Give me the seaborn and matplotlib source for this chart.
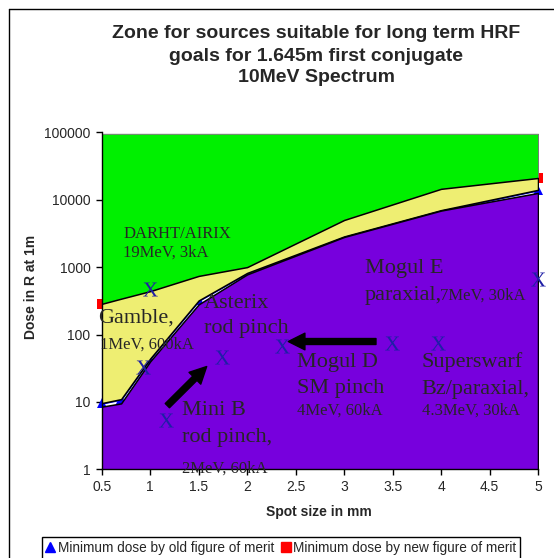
import matplotlib
matplotlib.use('Agg')
import matplotlib.pyplot as plt
import seaborn as sns
import numpy as np
from matplotlib.lines import Line2D
from matplotlib.ticker import NullLocator

# === Données ===
spot = [0.5, 0.7, 1.0, 1.5, 2.0, 3.0, 4.0, 5.0]
zone_low = [8.5, 9.5, 40, 280, 780, 2800, 6900, 12600]      # haut de la zone violette
old_fom = [9.6, 11, 44, 320, 820, 2850, 7000, 14000]        # dose mini, ancien facteur de mérite
new_fom = [285, 340, 440, 740, 1000, 5000, 14500, 21000]    # dose mini, nouveau facteur de mérite
zone_top = 95000

# sources (les "X")
mark_x = [1.0, 0.93, 1.74, 1.16, 2.36, 3.49, 3.965, 5.0]
mark_y = [470, 33.5, 47, 5.4, 68, 76, 76, 665]

x_ticks = [0.5, 1, 1.5, 2, 2.5, 3, 3.5, 4, 4.5, 5]
x_ticklabels = ['0.5', '1', '1.5', '2', '2.5', '3', '3.5', '4', '4.5', '5']
y_ticks = [1, 10, 100, 1000, 10000, 100000]
y_ticklabels = ['1', '10', '100', '1000', '10000', '100000']

# === Style ===
sns.set_style('white')
plt.rcParams['font.family'] = ['Liberation Sans', 'DejaVu Sans']
plt.rcParams['mathtext.fontset'] = 'custom'
plt.rcParams['mathtext.rm'] = 'Liberation Serif'

purple = '#7700DD'
yellow = '#EEEE72'
green = '#00F000'
xblue = '#1F1FA6'
serif = 'Liberation Serif'

fig = plt.figure(figsize=(5.54, 5.58), dpi=100)
ax = fig.add_axes([101.7 / 554, 1 - 469.3 / 558, 436.3 / 554, 337 / 558])
ax.set_yscale('log')

# zones
ax.fill_between(spot, new_fom, zone_top, facecolor=green, edgecolor='#777777', lw=0.7, zorder=2)
ax.fill_between(spot, old_fom, new_fom, facecolor=yellow, edgecolor='black', lw=1.1, zorder=2)
ax.fill_between(spot, 1, zone_low, facecolor=purple, edgecolor='black', lw=1.1, zorder=2)

# séries (sous les zones, marqueurs visibles hors du cadre)
sns.lineplot(x=spot, y=old_fom, color='blue', lw=2.5, marker='^', markersize=7,
             markeredgecolor='blue', markeredgewidth=0, clip_on=False, zorder=1, ax=ax)
sns.lineplot(x=spot, y=new_fom, color='red', lw=2.0, marker='s', markersize=7,
             markeredgecolor='red', markeredgewidth=0, clip_on=False, zorder=1, ax=ax)

sns.scatterplot(x=mark_x, y=mark_y, marker='$\\mathrm{X}$', s=110, color=xblue,
                linewidth=0, zorder=6, clip_on=False, legend=False, ax=ax)

# textes
big, small = 16, 12
labels = [
    ('DARHT/AIRIX', 0.72, 2700, 12),
    ('19MeV, 3kA', 0.72, 1410, 12),
    ('Gamble,', 0.465, 148, big),
    ('1MeV, 600kA', 0.48, 61, small),
    ('Asterix', 1.555, 247, big),
    ('rod pinch', 1.555, 105, big),
    ('Mini B', 1.325, 6.4, big),
    ('rod pinch,', 1.325, 2.57, big),
    ('2MeV, 60kA', 1.325, 0.89, small),
    ('Mogul E', 3.216, 817, big),
    ('paraxial,', 3.216, 328, big),
    ('7MeV, 30kA', 3.99, 328, small),
    ('Mogul D', 2.517, 33.5, big),
    ('SM pinch', 2.517, 13.7, big),
    ('4MeV, 60kA', 2.517, 6.4, small),
    ('Superswarf', 3.80, 32.7, big),
    ('Bz/paraxial,', 3.80, 13.1, big),
    ('4.3MeV, 30kA', 3.80, 6.4, small),
]
for txt, tx, ty, fs in labels:
    ax.text(tx, ty, txt, fontsize=fs, family=serif, ha='left', va='baseline',
            zorder=5, clip_on=False)

# flèches
arrow = dict(facecolor='black', edgecolor='black', width=4.3, headwidth=12,
             headlength=12, shrink=0)
ax.annotate('', xy=(1.583, 33.5), xytext=(1.177, 8.8), arrowprops=arrow, zorder=5)
ax.annotate('', xy=(2.424, 78.7), xytext=(3.329, 78.7), arrowprops=arrow, zorder=5)

# axes
ax.set_xlim(0.5, 5)
ax.set_ylim(1, 100000)
ax.set_xticks(x_ticks)
ax.set_xticklabels(x_ticklabels)
ax.set_yticks(y_ticks)
ax.set_yticklabels(y_ticklabels)
ax.yaxis.set_minor_locator(NullLocator())
ax.tick_params(axis='both', direction='out', length=4, width=1, color='black',
               labelsize=10, pad=4, bottom=True, left=True)
for side in ['top', 'right']:
    ax.spines[side].set_visible(False)
for side in ['left', 'bottom']:
    ax.spines[side].set_color('black')
    ax.spines[side].set_linewidth(1)
    ax.spines[side].set_zorder(4)

ax.text(0.498, -0.127, 'Spot size in mm', transform=ax.transAxes, ha='center',
        va='center', fontsize=10, fontweight='bold')
fig.text(31 / 554, 1 - 287 / 558, 'Dose in R at 1m', rotation=90, ha='center',
         va='center', fontsize=10, fontweight='bold')

# titre
title_lines = ['Zone for sources suitable for long term HRF',
               'goals for 1.645m first conjugate',
               '10MeV Spectrum']
for i, line in enumerate(title_lines):
    fig.text(316 / 554, 1 - (34 + 22 * i) / 558, line, ha='center', va='center',
             fontsize=14, fontweight='bold')

# légende
handles = [Line2D([], [], ls='none', marker='^', color='blue', markersize=7),
           Line2D([], [], ls='none', marker='s', color='red', markersize=7)]
leg = fig.legend(handles, ['Minimum dose by old figure of merit',
                           'Minimum dose by new figure of merit'],
                 loc='upper center', bbox_to_anchor=(281 / 554, 1 - 537 / 558),
                 ncol=2, fontsize=9.8, frameon=True, fancybox=False, framealpha=1,
                 edgecolor='black', handlelength=0.7, handletextpad=0.2,
                 columnspacing=0.5, borderpad=0.3, borderaxespad=0)
leg.get_frame().set_linewidth(1)

# cadre du graphique
fig.add_artist(Line2D([8.5 / 554, 8.5 / 554], [0, 1 - 8.5 / 558], transform=fig.transFigure,
                      color='black', lw=1))
fig.add_artist(Line2D([8.5 / 554, 1], [1 - 8.5 / 558, 1 - 8.5 / 558], transform=fig.transFigure,
                      color='black', lw=1))

fig.savefig('out.png', dpi=100)
plt.close(fig)
